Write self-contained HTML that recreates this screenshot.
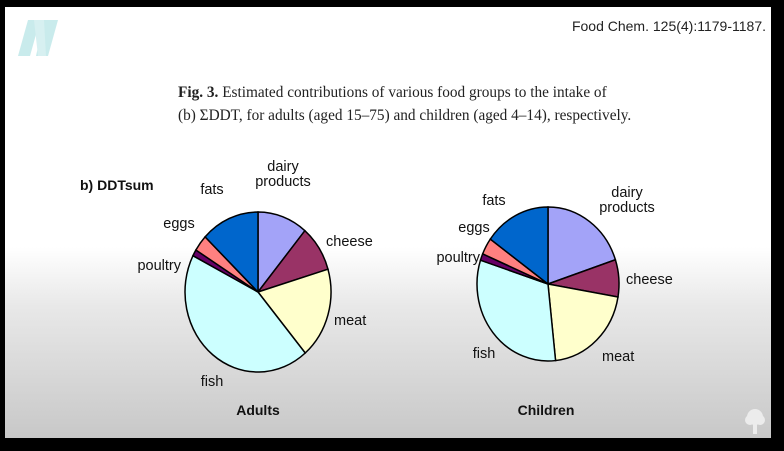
<!DOCTYPE html>
<html><head><meta charset="utf-8"><style>
html,body{margin:0;padding:0;width:784px;height:451px;background:#000;overflow:hidden}
#frame{position:absolute;left:5px;top:7px;width:766px;height:431px;background:linear-gradient(#fff 0px,#fff 240px,#e8e8e8 300px,#c8c8c8 431px);}
svg{position:absolute;left:0;top:0}
text{font-family:"Liberation Sans",sans-serif}
.serif{font-family:"Liberation Serif",serif}
</style></head><body>
<div id="frame"></div>
<svg width="784" height="451" id="chart">
<g fill="#c9ebec">
<polygon points="28,20 40,20 30,56 18,56"/><polygon points="44,20 58,20 48,56 36,56"/><polygon points="34,20 44,20 46,56 38,56" fill="#d7f0f1"/>
</g>
<text x="766" y="31" text-anchor="end" font-size="14" fill="#222">Food Chem. 125(4):1179-1187.</text>
<text x="178" y="97" font-size="15.3" class="serif" fill="#222"><tspan font-weight="bold">Fig. 3.</tspan> Estimated contributions of various food groups to the intake of</text>
<text x="178" y="120" font-size="15.3" class="serif" fill="#222">(b) ΣDDT, for adults (aged 15–75) and children (aged 4–14), respectively.</text>
<text x="80" y="190" font-size="14" font-weight="bold" fill="#111">b) DDTsum</text>
<text x="258" y="415" font-size="14" font-weight="bold" text-anchor="middle" fill="#111">Adults</text>
<text x="546" y="415" font-size="14" font-weight="bold" text-anchor="middle" fill="#111">Children</text>
<g id="pies"></g>
<g fill="#ececec">
<circle cx="755" cy="417" r="8"/><circle cx="750" cy="420" r="5"/><circle cx="760" cy="420" r="5"/><rect x="753" y="420" width="4" height="14"/>
</g>
</svg>
<script>
const categories=["dairy products","cheese","meat","fish","poultry","eggs","fats"];
const adultsValues=[11.1,9.3,18.4,43.7,1.3,3.3,12.9];
const childrenValues=[19.9,7.8,20.6,31.7,1.4,3.5,15.1];
const colors=["#a3a3f8","#993366","#ffffcc","#ccffff","#660066","#ff8080","#0066cc"];
const NS="http://www.w3.org/2000/svg";
const g=document.getElementById('pies');
function pie(vals,cx,cy,rx,ry,name,labels){
  const tot=vals.reduce((a,b)=>a+b,0);
  let a0=0;
  vals.forEach((v,i)=>{
    const a1=a0+v/tot*2*Math.PI;
    const x0=cx+rx*Math.sin(a0),y0=cy-ry*Math.cos(a0),x1=cx+rx*Math.sin(a1),y1=cy-ry*Math.cos(a1);
    const p=document.createElementNS(NS,'path');
    p.setAttribute('d',`M${cx},${cy}L${x0},${y0}A${rx},${ry} 0 ${a1-a0>Math.PI?1:0} 1 ${x1},${y1}Z`);
    p.setAttribute('fill',colors[i]);
    p.setAttribute('stroke','#000');p.setAttribute('stroke-width','1.5');
    
    
    g.appendChild(p);
    a0=a1;
  });
  labels.forEach((l,i)=>{
    l.t.forEach((line,j)=>{
      const t=document.createElementNS(NS,'text');
      t.setAttribute('x',l.x);t.setAttribute('y',l.y+j*15);
      t.setAttribute('font-size','14.5');t.setAttribute('fill','#111');
      t.setAttribute('text-anchor',l.a||'start');
      t.textContent=line;
      
      
      g.appendChild(t);
    });
  });
}
pie(adultsValues,258,292,73,80,'adults',[
 {x:283,y:171,t:['dairy','products'],a:'middle'},
 {x:326,y:246,t:['cheese']},
 {x:334,y:325,t:['meat']},
 {x:212,y:386,t:['fish'],a:'middle'},
 {x:181,y:270,t:['poultry'],a:'end'},
 {x:179,y:228,t:['eggs'],a:'middle'},
 {x:212,y:194,t:['fats'],a:'middle'}]);
pie(childrenValues,548,284,71,77,'children',[
 {x:627,y:197,t:['dairy','products'],a:'middle'},
 {x:626,y:284,t:['cheese']},
 {x:602,y:361,t:['meat']},
 {x:484,y:358,t:['fish'],a:'middle'},
 {x:480,y:262,t:['poultry'],a:'end'},
 {x:474,y:232,t:['eggs'],a:'middle'},
 {x:494,y:205,t:['fats'],a:'middle'}]);
</script>
</body></html>
